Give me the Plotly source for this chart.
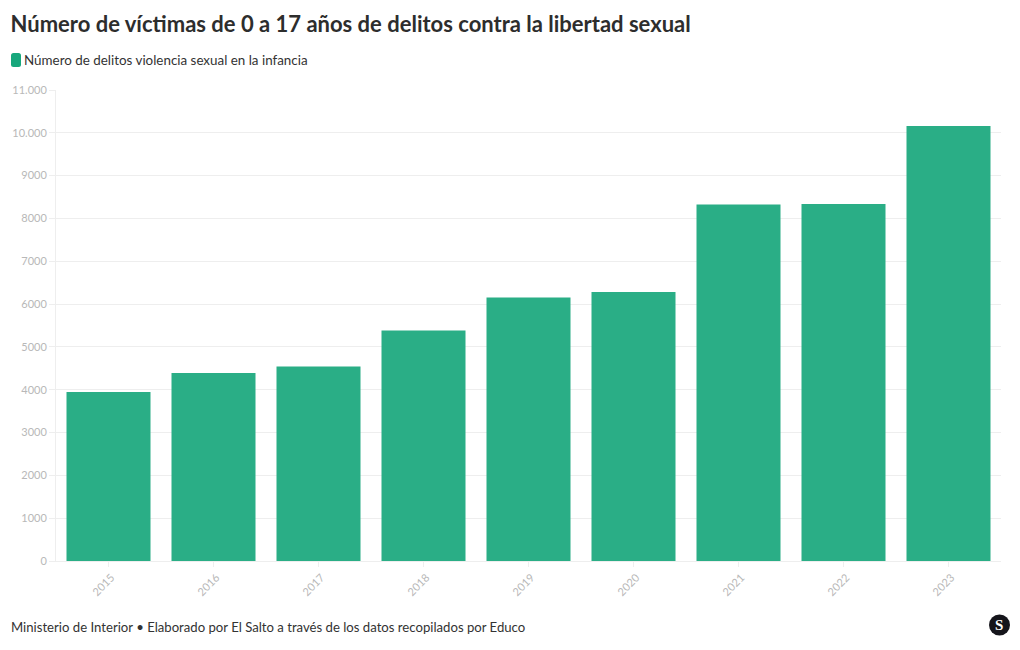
import plotly.graph_objects as go

years = ["2015", "2016", "2017", "2018", "2019", "2020", "2021", "2022", "2023"]
victims = [3947, 4390, 4543, 5383, 6154, 6282, 8326, 8337, 10159]
y_ticks = [0, 1000, 2000, 3000, 4000, 5000, 6000, 7000, 8000, 9000, 10000, 11000]
y_labels = ["0", "1000", "2000", "3000", "4000", "5000", "6000", "7000", "8000", "9000", "10.000", "11.000"]
title = "Número de víctimas de 0 a 17 años de delitos contra la libertad sexual"
legend_label = "Número de delitos violencia sexual en la infancia"
source = "Ministerio de Interior • Elaborado por El Salto a través de los datos recopilados por Educo"

W, H = 1020, 650
L, R, T, B = 56, 1001, 90, 561
FONT = "Lato"


def ax(x):
    return (x - L) / (R - L)


def ay(y):
    return (B - y) / (B - T)


fig = go.Figure(
    go.Bar(x=years, y=victims, name=legend_label, marker=dict(color="#2AAE86", line_width=0), hoverinfo="x+y")
)
fig.update_layout(
    width=W, height=H,
    margin=dict(l=L, r=W - R, t=T, b=H - B, autoexpand=False),
    paper_bgcolor="white", plot_bgcolor="white",
    bargap=0.2, showlegend=False,
    font=dict(family=FONT, color="#333333"),
    title=dict(text=f"<b>{title}</b>", x=10.5 / W, xanchor="left", xref="container",
               y=1 - 24.5 / H, yanchor="middle", yref="container", automargin=False,
               font=dict(size=22, color="#2d2d2d", family=FONT)),
)
fig.update_xaxes(
    tickangle=-45, tickfont=dict(size=11, color="#b8b8b8"), automargin=False, ticklabelshift=3,
    ticks="outside", ticklen=5, tickcolor="#eeeeee", showgrid=False,
    showline=True, linecolor="#eeeeee", linewidth=1, zeroline=False,
)
fig.update_yaxes(
    range=[0, 11000], tickvals=y_ticks, ticktext=y_labels, automargin=False,
    tickfont=dict(size=11, color="#b8b8b8"),
    ticks="outside", ticklen=6, tickcolor="#eeeeee",
    showgrid=True, gridcolor="#eeeeee", gridwidth=1,
    showline=True, linecolor="#eeeeee", linewidth=1, zeroline=False,
)
# Legend swatch with rounded corners
x0, x1, y0, y1, r = ax(11), ax(21), ay(67), ay(53), 2.5 / (R - L)
ry = 2.5 / (B - T)
fig.add_shape(
    type="path", xref="paper", yref="paper", fillcolor="#17A77C", line_width=0,
    path=(f"M {x0 + r} {y0} L {x1 - r} {y0} Q {x1} {y0} {x1} {y0 + ry} L {x1} {y1 - ry} Q {x1} {y1} {x1 - r} {y1} "
          f"L {x0 + r} {y1} Q {x0} {y1} {x0} {y1 - ry} L {x0} {y0 + ry} Q {x0} {y0} {x0 + r} {y0} Z"),
)
fig.add_annotation(xref="paper", yref="paper", x=ax(23), y=ay(59.6), text=legend_label,
                   showarrow=False, xanchor="left", yanchor="middle", xshift=-1,
                   font=dict(size=13.4, color="#333333", family=FONT))
fig.add_annotation(xref="paper", yref="paper", x=ax(10), y=ay(627), text=source,
                   showarrow=False, xanchor="left", yanchor="middle", xshift=-1,
                   font=dict(size=13.15, color="#333333", family=FONT))
# Logo
fig.add_shape(type="circle", xref="paper", yref="paper", x0=ax(989), x1=ax(1010),
              y0=ay(635.5), y1=ay(614.5), fillcolor="#15151b", line_width=0)
fig.add_annotation(xref="paper", yref="paper", x=ax(999), y=ay(625), text="<b>S</b>",
                   showarrow=False, xanchor="center", yanchor="middle",
                   font=dict(size=15, color="white", family="Liberation Serif"))

fig.write_html("out.html", config=dict(displayModeBar=False), post_script="document.body.style.margin='0';")
